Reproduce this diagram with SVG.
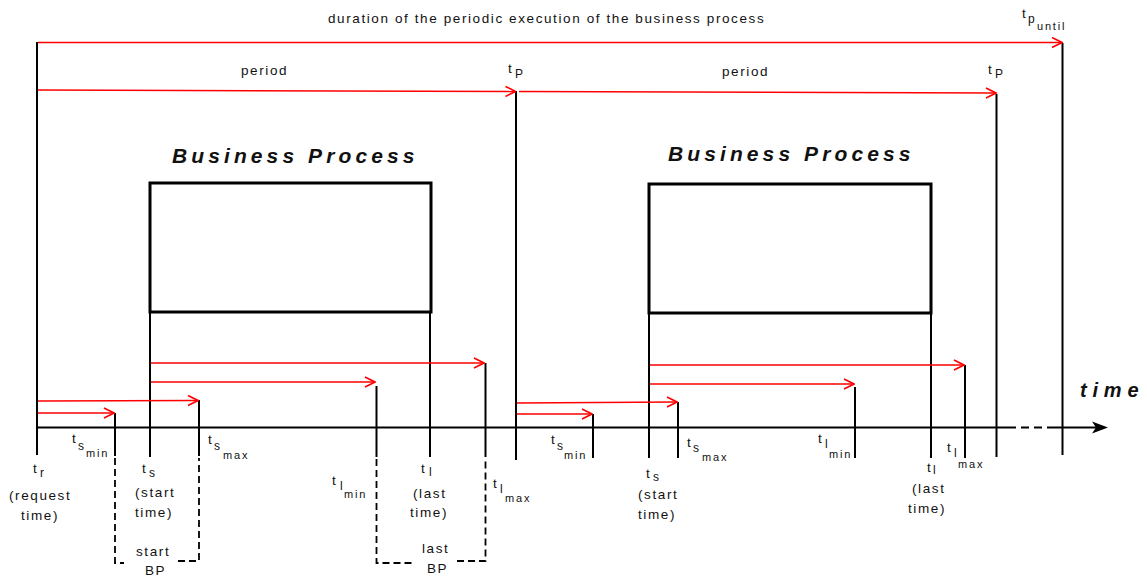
<svg xmlns="http://www.w3.org/2000/svg" width="1147" height="577" viewBox="0 0 1147 577">
  <style>
    text { font-family: "Liberation Sans", Arial, sans-serif; fill: #111; }
    .lb { font-size: 13.5px; letter-spacing: 1.6px; }
    .sb { font-size: 12px; letter-spacing: 1.5px; }
    .ss { font-size: 11px; letter-spacing: 1.8px; }
    .title { font-size: 21px; font-weight: bold; font-style: italic; letter-spacing: 4.1px; }
    .axis-label { font-size: 20px; font-weight: bold; font-style: italic; letter-spacing: 5.8px; }
    .red { stroke: #ff0000; stroke-width: 1.6; fill: none; marker-end: url(#open); }
    .tick { stroke: #000; stroke-width: 2; fill: none; }
    .dash { stroke: #000; stroke-width: 1.8; fill: none; stroke-dasharray: 7 4; }
    .box { stroke: #000; stroke-width: 3; fill: #fff; }
  </style>
  <defs>
    <marker id="open" viewBox="0 0 12 12" refX="11" refY="6" markerWidth="12" markerHeight="12" markerUnits="userSpaceOnUse" orient="auto">
      <path d="M1,1 L11,6 L1,11" fill="none" stroke="#ff0000" stroke-width="1.6"/>
    </marker>
  </defs>

  <!-- time axis -->
  <g id="axis">
    <line class="tick" x1="37" y1="427.5" x2="1008" y2="427.5"/>
    <line x1="1008" y1="427.5" x2="1055" y2="427.5" stroke="#000" stroke-width="2" stroke-dasharray="8 5"/>
    <line class="tick" x1="1055" y1="427.5" x2="1097" y2="427.5"/>
    <path d="M1108,427.5 L1092,421.5 L1096,427.5 L1092,433.5 Z" fill="#000"/>
    <text class="axis-label" x="1080" y="397">time</text>
  </g>

  <!-- business process boxes -->
  <g id="bp1">
    <text class="title" x="172" y="163">Business Process</text>
    <rect class="box" x="150" y="183" width="281" height="129"/>
  </g>
  <g id="bp2">
    <text class="title" x="668" y="161">Business Process</text>
    <rect class="box" x="649" y="184" width="282" height="129"/>
  </g>

  <!-- connectors: time marks and interval arrows -->
  <g id="connectors">
    <!-- vertical time marks -->
    <line class="tick" x1="37" y1="42" x2="37" y2="455"/>
    <line class="tick" x1="115" y1="413" x2="115" y2="456"/>
    <line class="tick" x1="150" y1="312" x2="150" y2="457"/>
    <line class="tick" x1="199" y1="400" x2="199" y2="456"/>
    <line class="tick" x1="376.5" y1="386" x2="376.5" y2="457"/>
    <line class="tick" x1="430" y1="312" x2="430" y2="457"/>
    <line class="tick" x1="485.5" y1="363" x2="485.5" y2="457"/>
    <line class="tick" x1="516" y1="91" x2="516" y2="460"/>
    <line class="tick" x1="593" y1="414" x2="593" y2="458"/>
    <line class="tick" x1="649" y1="313" x2="649" y2="458"/>
    <line class="tick" x1="678" y1="402" x2="678" y2="458"/>
    <line class="tick" x1="855" y1="387" x2="855" y2="458"/>
    <line class="tick" x1="931" y1="313" x2="931" y2="458"/>
    <line class="tick" x1="965" y1="365" x2="965" y2="458"/>
    <line class="tick" x1="996.5" y1="94" x2="996.5" y2="457"/>
    <line class="tick" x1="1062.5" y1="43" x2="1062.5" y2="455"/>

    <!-- dashed brackets: start window and last window -->
    <path class="dash" d="M115,458 V563 H124"/>
    <path class="dash" d="M178,561 H199 V458"/>
    <path class="dash" d="M376.5,459 V563 H412"/>
    <path class="dash" d="M457,561 H485.5 V459"/>

    <!-- red interval arrows -->
    <line class="red" x1="38" y1="42.5" x2="1062" y2="42.5"/>
    <line class="red" x1="38" y1="90" x2="515.5" y2="91.5"/>
    <line class="red" x1="519" y1="91.5" x2="996" y2="93"/>

    <line class="red" x1="38" y1="401" x2="198" y2="400.5"/>
    <line class="red" x1="38" y1="413" x2="114" y2="413"/>
    <line class="red" x1="151" y1="363" x2="484" y2="363"/>
    <line class="red" x1="151" y1="382" x2="375" y2="382"/>

    <line class="red" x1="517" y1="403" x2="677" y2="402"/>
    <line class="red" x1="517" y1="414" x2="592" y2="414"/>
    <line class="red" x1="650" y1="365" x2="964" y2="365"/>
    <line class="red" x1="650" y1="384" x2="854" y2="384"/>
  </g>

  <!-- labels -->
  <g id="labels">
    <text class="lb" x="328" y="23">duration of the periodic execution of the business process</text>
    <text class="lb" x="1022" y="18">t</text>
    <text class="sb" x="1028" y="23">p</text>
    <text class="ss" x="1037" y="30">until</text>

    <text class="lb" x="241" y="75">period</text>
    <text class="lb" x="722" y="76">period</text>
    <text class="lb" x="508" y="73">t</text>
    <text class="sb" x="515" y="78">P</text>
    <text class="lb" x="988" y="74">t</text>
    <text class="sb" x="995" y="78">P</text>

    <!-- first period -->
    <text class="lb" x="33" y="473">t</text>
    <text class="sb" x="40" y="477">r</text>
    <text class="lb" x="9" y="500">(request</text>
    <text class="lb" x="21" y="520">time)</text>

    <text class="lb" x="72" y="443">t</text>
    <text class="sb" x="78" y="450">s</text>
    <text class="ss" x="86" y="457">min</text>

    <text class="lb" x="142" y="473">t</text>
    <text class="sb" x="149" y="477">s</text>
    <text class="lb" x="135" y="497">(start</text>
    <text class="lb" x="135" y="517">time)</text>

    <text class="lb" x="208" y="444">t</text>
    <text class="sb" x="214" y="450">s</text>
    <text class="ss" x="223" y="459">max</text>

    <text class="lb" x="136" y="556">start</text>
    <text class="lb" x="145" y="575">BP</text>

    <text class="lb" x="332" y="485">t</text>
    <text class="sb" x="340" y="490">l</text>
    <text class="ss" x="344" y="498">min</text>

    <text class="lb" x="421" y="473">t</text>
    <text class="sb" x="429" y="476">l</text>
    <text class="lb" x="413" y="498">(last</text>
    <text class="lb" x="410" y="517">time)</text>

    <text class="lb" x="493" y="488">t</text>
    <text class="sb" x="500" y="493">l</text>
    <text class="ss" x="505" y="502">max</text>

    <text class="lb" x="422" y="553">last</text>
    <text class="lb" x="427" y="573">BP</text>

    <!-- second period -->
    <text class="lb" x="551" y="444">t</text>
    <text class="sb" x="557" y="450">s</text>
    <text class="ss" x="564" y="459">min</text>

    <text class="lb" x="646" y="478">t</text>
    <text class="sb" x="653" y="481">s</text>
    <text class="lb" x="638" y="499">(start</text>
    <text class="lb" x="638" y="519">time)</text>

    <text class="lb" x="687" y="447">t</text>
    <text class="sb" x="693" y="452">s</text>
    <text class="ss" x="702" y="461">max</text>

    <text class="lb" x="818" y="443">t</text>
    <text class="sb" x="825" y="448">l</text>
    <text class="ss" x="829" y="458">min</text>

    <text class="lb" x="927" y="472">t</text>
    <text class="sb" x="933" y="474">l</text>
    <text class="lb" x="912" y="493">(last</text>
    <text class="lb" x="908" y="513">time)</text>

    <text class="lb" x="947" y="452">t</text>
    <text class="sb" x="954" y="457">l</text>
    <text class="ss" x="958" y="468">max</text>
  </g>
</svg>
